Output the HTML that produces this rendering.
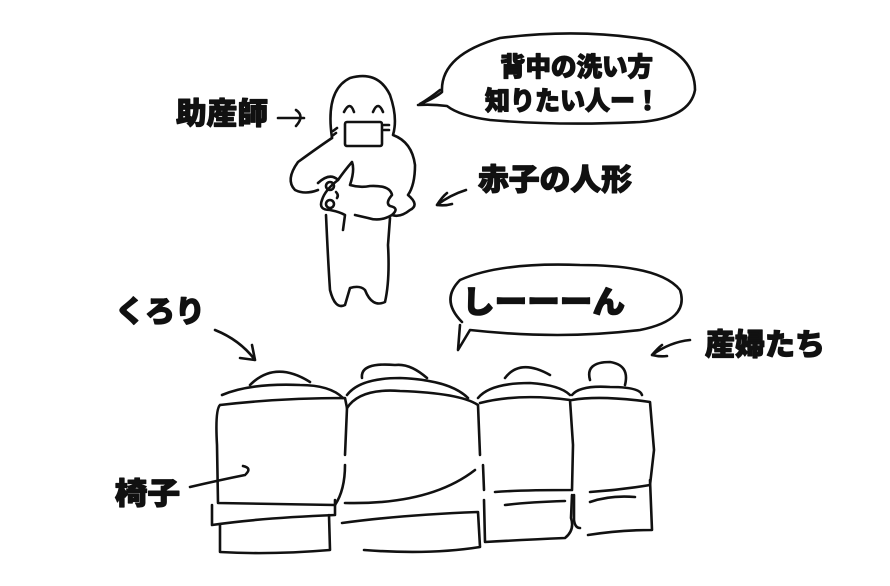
<!DOCTYPE html>
<html><head><meta charset="utf-8"><style>
html,body{margin:0;padding:0;background:#fff;width:890px;height:586px;overflow:hidden}
svg{display:block}
text{font-family:"Liberation Sans","Noto Sans CJK JP",sans-serif;font-weight:900;fill:#111;stroke:#111;stroke-width:1.2}
</style></head><body>
<svg width="890" height="586" viewBox="0 0 890 586" fill="none" stroke="#111" stroke-width="2.6" stroke-linecap="round" stroke-linejoin="round">
<!-- bubble 1 -->
<path d="M420,104 Q435,98 442,92 Q440,55 500,38 Q580,28 650,40 Q695,55 695,90 Q690,118 640,122 Q560,126 490,120 Q460,116 447,106 Q432,104 418,105"/>
<path d="M420,104 Q430,98 440,90"/>
<text x="500" y="76" font-size="26" textLength="153" lengthAdjust="spacingAndGlyphs">背中の洗い方</text>
<text x="485" y="110" font-size="26" textLength="175" lengthAdjust="spacingAndGlyphs">知りたい人ー！</text>
<!-- bubble 2 -->
<path d="M462,322 Q440,300 460,280 Q500,262 580,265 Q660,265 680,290 Q690,320 640,330 Q560,340 470,330 L458,350 L460,325"/>
<text x="462" y="313" font-size="31" textLength="163" lengthAdjust="spacingAndGlyphs">しーーーん</text>
<!-- labels -->
<text x="176" y="124" font-size="30" textLength="92" lengthAdjust="spacingAndGlyphs">助産師</text>
<path d="M278,118 L304,118 M296,110 Q305,116 296,126"/>
<text x="478" y="190" font-size="30" textLength="154" lengthAdjust="spacingAndGlyphs">赤子の人形</text>
<path d="M466,190 Q450,195 437,205 M437,205 Q442,197 447,193 M437,205 Q445,206 452,204"/>
<text x="115" y="322" font-size="30" textLength="90" lengthAdjust="spacingAndGlyphs">くろり</text>
<path d="M215,330 Q240,340 255,360 M255,360 L240,358 M255,360 L252,345"/>
<text x="705" y="355" font-size="30" textLength="120" lengthAdjust="spacingAndGlyphs">産婦たち</text>
<path d="M690,340 Q670,342 652,355 M652,355 Q658,348 662,345 M652,355 Q660,357 667,356"/>
<text x="115" y="504" font-size="30" textLength="65" lengthAdjust="spacingAndGlyphs">椅子</text>
<path d="M190,487 Q220,480 245,475 M243,466 Q252,468 246,474"/>
<!-- midwife -->
<path d="M332,138 Q325,90 350,78 Q378,70 390,95 Q398,118 393,135 Q412,142 415,165 Q415,185 408,195 Q420,205 410,210 Q400,218 392,215 Q380,222 368,218 L355,215"/>
<path d="M332,138 Q320,146 298,162 Q285,180 295,190 Q305,195 318,190"/>
<path d="M337,128 L333,131 M336,133 L332,136 M384,125 L389,125 M384,130 L389,130"/>
<rect x="345" y="122" width="37" height="24" rx="2"/>
<path d="M344,112 Q350,100 354,112 M373,112 Q378,100 383,112"/>
<!-- baby -->
<path d="M318,183 Q330,172 338,180 Q345,170 352,162 Q355,170 350,185 Q360,188 370,186 Q390,185 392,195 Q385,203 390,206 Q400,208 392,215"/>
<path d="M338,180 Q325,190 322,200 Q318,210 330,210 Q340,212 345,215 L343,230"/>
<circle cx="330" cy="186" r="4"/><circle cx="330" cy="204" r="4"/>
<path d="M336,192 Q339,195 337,198"/>
<!-- legs -->
<path d="M326,215 Q328,260 330,290 Q335,310 345,305 L350,288 Q360,285 365,290 Q372,308 385,302 Q390,280 388,245 L390,218"/>
<!-- chairs: heads -->
<path d="M250,385 Q275,360 310,382"/>
<path d="M362,378 Q360,362 395,365 Q410,363 427,378"/>
<path d="M505,378 Q520,358 550,375"/>
<path d="M590,380 Q585,362 610,362 Q630,365 625,385"/>
<!-- chair tops -->
<path d="M222,395 Q250,383 300,385 Q330,385 343,398"/>
<path d="M347,395 Q360,378 400,378 Q450,380 468,398"/>
<path d="M478,398 Q490,383 530,383 Q560,385 570,395"/>
<path d="M572,395 Q580,385 610,387 Q640,387 642,395"/>
<!-- chair backs -->
<path d="M220,405 Q280,398 345,398 L347,408 L345,455 M345,465 Q345,490 335,505 L218,503 L217,445 Q215,410 220,405"/>
<path d="M347,408 Q360,388 400,391 Q460,393 478,405 L480,455 M475,470 Q430,505 345,503"/>
<path d="M480,403 Q520,393 570,400 L573,445 L572,490 Q520,490 495,492 M483,465 L484,490"/>
<path d="M572,400 Q600,395 650,402 L654,450 L650,485 Q620,490 590,492"/>
<!-- seats -->
<path d="M212,505 L212,525 Q260,518 335,515 L335,500"/>
<path d="M220,525 L220,552 Q270,555 330,550 L329,515"/>
<path d="M342,523 Q400,515 478,512 L480,547 Q430,555 364,550"/>
<path d="M484,500 L485,542 Q520,540 565,538 Q575,530 571,518 L572,495"/>
<path d="M505,505 Q530,502 565,501 M590,502 Q610,495 635,497"/>
<path d="M650,480 L652,530 Q620,530 588,535"/>
<path d="M574,495 L574,520 Q575,528 580,528"/>
</svg>
</body></html>
